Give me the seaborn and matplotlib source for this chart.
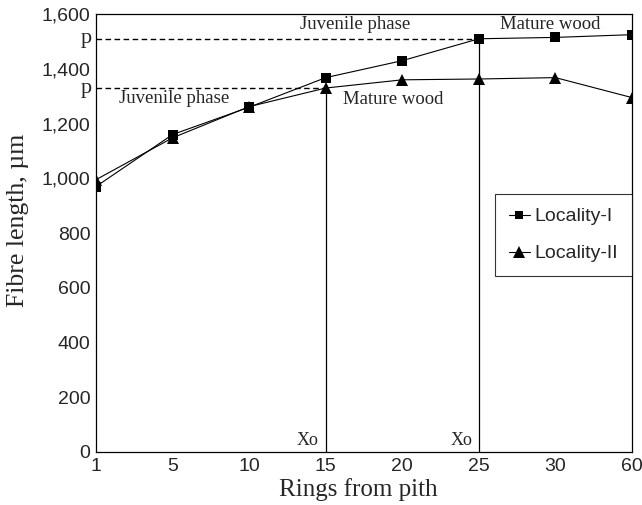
import matplotlib
matplotlib.use("Agg")
import matplotlib.pyplot as plt
import matplotlib.ticker as mticker
from matplotlib.lines import Line2D
from matplotlib.legend_handler import HandlerLine2D
import numpy as np
import seaborn as sns
import pandas as pd

rings = ["1", "5", "10", "15", "20", "25", "30", "60"]
locality_1 = [970, 1160, 1260, 1368, 1430, 1510, 1515, 1525]
locality_2 = [995, 1148, 1262, 1330, 1360, 1363, 1368, 1295]
series_names = ["Locality-I", "Locality-II"]
y_ticks = [0, 200, 400, 600, 800, 1000, 1200, 1400, 1600]

df = pd.DataFrame({
    "ring": rings * 2,
    "length": locality_1 + locality_2,
    "site": [series_names[0]] * len(rings) + [series_names[1]] * len(rings),
})

sns.set_style("white")
serif = "Liberation Serif"
sans = "Liberation Sans"

fig = plt.figure(figsize=(6.42, 5.05), dpi=100)
ax = fig.add_axes([0.1495, 0.105, 0.835, 0.867])

sns.lineplot(data=df, x="ring", y="length", hue="site", style="site",
             markers={"Locality-I": "s", "Locality-II": "^"}, dashes=False,
             palette={"Locality-I": "black", "Locality-II": "black"},
             linewidth=0.8, markeredgewidth=0, ax=ax, legend=False, sort=False)
for line, ms in zip(ax.lines, [6.5, 9]):
    line.set_markersize(ms)

ax.set_xlim(0, len(rings) - 1)
ax.set_ylim(0, 1600)
ax.set_yticks(y_ticks)
ax.yaxis.set_major_formatter(mticker.FuncFormatter(lambda v, _: f"{int(v):,}"))
ax.tick_params(axis="y", length=0, labelsize=14, pad=4)
ax.tick_params(axis="x", length=0, labelsize=14, pad=4)
for lbl in ax.get_xticklabels() + ax.get_yticklabels():
    lbl.set_fontfamily(sans)

for sp in ax.spines.values():
    sp.set_visible(True)
    sp.set_color("black")
    sp.set_linewidth(0.9)

# transition points: juvenile -> mature
i15 = rings.index("15")
i25 = rings.index("25")
p1 = locality_1[i25]
p2 = locality_2[i15]

ax.hlines(p1, 0, i25, colors="black", linestyles=(0, (4, 2.5)), linewidth=1.0)
ax.hlines(p2, 0, i15, colors="black", linestyles=(0, (4, 2.5)), linewidth=1.0)
ax.vlines(i15, 0, p2, colors="black", linewidth=0.9)
ax.vlines(i25, 0, p1, colors="black", linewidth=0.9)

# "p" labels on the y axis
for pv in (p1, p2):
    ax.text(-0.007, pv, "p", transform=ax.get_yaxis_transform(), ha="right",
            va="center", fontsize=16, fontfamily=serif)

ax.text(i15 - 0.09, 12, "Xo", ha="right", va="bottom", fontsize=13, fontfamily=serif)
ax.text(i25 - 0.09, 12, "Xo", ha="right", va="bottom", fontsize=13, fontfamily=serif)

ax.text(3.38, 1562, "Juvenile phase", ha="center", va="center", fontsize=13.5, fontfamily=serif)
ax.text(5.93, 1562, "Mature wood", ha="center", va="center", fontsize=13.5, fontfamily=serif)
ax.text(1.02, 1292, "Juvenile phase", ha="center", va="center", fontsize=13.5, fontfamily=serif)
ax.text(3.88, 1288, "Mature wood", ha="center", va="center", fontsize=13.5, fontfamily=serif)

ax.set_xlabel("Rings from pith", fontsize=18, fontfamily=serif)
ax.set_ylabel("Fibre length, µm", fontsize=18.5, fontfamily=serif)
ax.xaxis.set_label_coords(0.489, -0.060)
ax.yaxis.set_label_coords(-0.125, 0.53)


class EndMarkerHandler(HandlerLine2D):
    """Legend handle with a short lead-in line and the marker near the label."""
    def get_xdata(self, legend, xdescent, ydescent, width, height, fontsize):
        xdata = np.array([-xdescent, -xdescent + width])
        xmark = np.array([-xdescent + 0.72 * width])
        return xdata, xmark


handles = [
    Line2D([], [], color="black", marker="s", markersize=6, linewidth=0.8, markeredgewidth=0),
    Line2D([], [], color="black", marker="^", markersize=8.5, linewidth=0.8, markeredgewidth=0),
]
leg = ax.legend(handles, series_names, loc="upper right", bbox_to_anchor=(1.0, 0.589),
                borderaxespad=0, frameon=True, fancybox=False, handlelength=1.1,
                handletextpad=0.25, labelspacing=1.0, borderpad=0.7, numpoints=1,
                handler_map={Line2D: EndMarkerHandler(numpoints=1)},
                prop={"family": sans, "size": 14})
leg.get_frame().set_edgecolor("black")
leg.get_frame().set_linewidth(0.8)

fig.savefig("out.png", dpi=100)
